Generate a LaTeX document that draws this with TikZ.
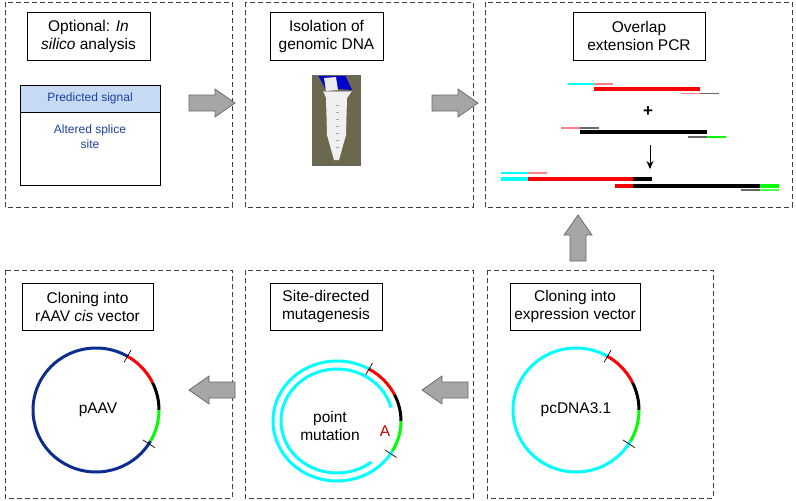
\documentclass[tikz,border=0pt]{standalone}
\usepackage{fontspec}
\setmainfont{Liberation Sans}
\usetikzlibrary{calc,arrows.meta}
\definecolor{lred}{HTML}{FF8080}
\definecolor{navy}{HTML}{0C2D8F}
\definecolor{dblue}{HTML}{1F3FA0}
\definecolor{hdr}{HTML}{C6DBF3}
\definecolor{cyn}{HTML}{00FFFF}
\definecolor{grn}{HTML}{00FF00}
\definecolor{rd}{HTML}{FF0000}
\begin{document}
\begin{tikzpicture}[x=1pt,y=-1pt,
  panel/.style={draw=black!75,dashed,dash pattern=on 5pt off 3pt,line width=0.8pt},
  titlebox/.style={draw=black,line width=0.8pt,fill=white,align=center,font=\fontsize{15.5}{18}\selectfont},
  barrowstyle/.style={draw=black!60,fill=black!35,line width=0.7pt},
  thick1/.style={line width=4pt},
  thin1/.style={line width=1.2pt},
  ring/.style={line width=3pt},
  lbl/.style={font=\fontsize{15.5}{18}\selectfont,align=center}]
\useasboundingbox (0,0) rectangle (796,501);
\newcommand\blockarrow[2]{\draw[barrowstyle,shift={#1},rotate=#2] (-23,-8) -- (3,-8) -- (3,-14) -- (23,0) -- (3,14) -- (3,8) -- (-23,8) -- cycle;}
% panels
\draw[panel] (5,2) rectangle (232,207);
\draw[panel] (245,2) rectangle (473,207);
\draw[panel] (485,2) rectangle (792,207);
\draw[panel] (5,270) rectangle (232,498);
\draw[panel] (245,270) rectangle (473,498);
\draw[panel] (487,270) rectangle (713,498);
% titles
\node[titlebox,minimum width=123pt,minimum height=48pt] (t1) at (88.5,36) {Optional: \textit{In}\\\textit{silico} analysis};
\node[titlebox,minimum width=113pt,minimum height=48pt] (t2) at (326.5,36) {Isolation of\\genomic DNA};
\node[titlebox,minimum width=132pt,minimum height=48pt] (t3) at (639,36) {Overlap\\extension PCR};
\node[titlebox,minimum width=131pt,minimum height=47pt] (t4) at (87.5,306.5) {Cloning into\\rAAV \textit{cis} vector};
\node[titlebox,minimum width=112pt,minimum height=47pt] (t5) at (326,306.5) {Site-directed\\mutagenesis};
\node[titlebox,minimum width=130pt,minimum height=47pt] (t6) at (575,306.5) {Cloning into\\expression vector};
% in silico table
\draw[fill=hdr,line width=0.8pt] (20,85) rectangle (160,112);
\draw[line width=0.8pt] (20,112) rectangle (160,185);
\node[lbl,text=dblue,font=\fontsize{12}{15}\selectfont] (ps) at (90,98.5) {Predicted signal};
\node[lbl,text=dblue,font=\fontsize{12}{15}\selectfont] (as) at (90,137) {Altered splice\\site};
% tube photo
\fill[black!55!olive!60!gray] (312,75) rectangle (360,165);
\fill[blue!80!black] (318,75) -- (345,75) -- (352,90) -- (325,88) -- cycle;
\fill[white!85!gray] (324,78) -- (336,77) -- (338,90) -- (326,91) -- cycle;
\fill[white!88!gray] (323,91) -- (352,91) -- (347,98) -- (346,135) -- (339,160) -- (334,160) -- (327,135) -- (326,98) -- cycle;
\draw[gray!60,line width=0.6pt] (323,91) -- (352,91);
\foreach \yy in {105,112,...,152} \draw[gray!70,line width=0.4pt] (336,\yy) -- (339,\yy);
\node[draw=black!60,line width=0.6pt,minimum width=48pt,minimum height=90pt,inner sep=0pt] (tube) at (336,120) {};
% block arrows
\blockarrow{(212,103)}{0}
\blockarrow{(455,103)}{0}
\blockarrow{(578,238)}{90}
\blockarrow{(445,390)}{180}
\blockarrow{(212,390)}{180}
% PCR
\draw[thick1,rd] (594,89) -- (700,89);
\draw[thin1,cyn] (568,84) -- (594,84);
\draw[thin1,lred] (594,84) -- (613,84);
\draw[thin1,lred] (681,93.5) -- (700,93.5);
\draw[thin1,black!60] (700,93.5) -- (719,93.5);
\node[font=\fontsize{17}{17}\selectfont\bfseries] (plus) at (648,112) {+};
\draw[thick1,black] (580,132) -- (707,132);
\draw[thin1,lred] (561,128) -- (580,128);
\draw[thin1,black!60] (580,128) -- (599,128);
\draw[thin1,black!60] (688,137) -- (707,137);
\draw[thin1,grn] (707,137) -- (726,137);
\coordinate (ds) at (650,145); \coordinate (de) at (650,169);
\draw[-{Stealth[length=8pt,width=7pt]},line width=0.8pt] (ds) -- (de);
\draw[thin1,cyn] (501,173) -- (528,173);
\draw[thin1,lred] (528,173) -- (547,173);
\draw[thick1,cyn] (501,178.5) -- (528,178.5);
\draw[thick1,rd] (528,178.5) -- (633,178.5);
\draw[thick1,black] (633,178.5) -- (652,178.5);
\draw[thick1,rd] (615,185.5) -- (633,185.5);
\draw[thick1,black] (633,185.5) -- (760,185.5);
\draw[thick1,grn] (760,185.5) -- (779,185.5);
\draw[thin1,black!60] (741,190) -- (760,190);
\draw[thin1,grn!70] (760,190) -- (779,190);
% circles: pAAV
\coordinate (c4) at (96,410);
\draw[ring,navy] (c4) ++(-60:63 and 62) arc[start angle=-60,end angle=-330,x radius=63,y radius=62];
\draw[ring,rd] (c4) ++(-60:63 and 62) arc[start angle=-60,end angle=-26,x radius=63,y radius=62];
\draw[ring,black] (c4) ++(-26:63 and 62) arc[start angle=-26,end angle=0,x radius=63,y radius=62];
\draw[ring,grn] (c4) ++(0:63 and 62) arc[start angle=0,end angle=30,x radius=63,y radius=62];
\draw[black,line width=0.7pt] ($(c4)+(-60:56 and 55)$) -- ($(c4)+(-60:70 and 69)$);
\draw[black,line width=0.7pt] ($(c4)+(33:56 and 55)$) -- ($(c4)+(33:70 and 69)$);
\node[lbl] (l4) at (98,410) {pAAV};
% pcDNA
\coordinate (c6) at (576,410);
\draw[ring,cyn] (c6) ++(-60:63 and 62) arc[start angle=-60,end angle=-330,x radius=63,y radius=62];
\draw[ring,rd] (c6) ++(-60:63 and 62) arc[start angle=-60,end angle=-26,x radius=63,y radius=62];
\draw[ring,black] (c6) ++(-26:63 and 62) arc[start angle=-26,end angle=0,x radius=63,y radius=62];
\draw[ring,grn] (c6) ++(0:63 and 62) arc[start angle=0,end angle=30,x radius=63,y radius=62];
\draw[black,line width=0.7pt] ($(c6)+(-60:56 and 55)$) -- ($(c6)+(-60:70 and 69)$);
\draw[black,line width=0.7pt] ($(c6)+(33:56 and 55)$) -- ($(c6)+(33:70 and 69)$);
\node[lbl] (l6) at (576,410) {pcDNA3.1};
% mutagenesis
\coordinate (c5) at (337,421);
\draw[ring,cyn] (c5) ++(-60:64 and 60) arc[start angle=-60,end angle=-330,x radius=64,y radius=60];
\draw[ring,rd] (c5) ++(-60:64 and 60) arc[start angle=-60,end angle=-26,x radius=64,y radius=60];
\draw[ring,black] (c5) ++(-26:64 and 60) arc[start angle=-26,end angle=0,x radius=64,y radius=60];
\draw[ring,grn] (c5) ++(0:64 and 60) arc[start angle=0,end angle=30,x radius=64,y radius=60];
\draw[black,line width=0.7pt] ($(c5)+(-60:57 and 53)$) -- ($(c5)+(-60:71 and 67)$);
\draw[black,line width=0.7pt] ($(c5)+(33:57 and 53)$) -- ($(c5)+(33:71 and 67)$);
\draw[ring,cyn] (c5) ++(-15:56 and 52) arc[start angle=-15,end angle=-308,x radius=56,y radius=52];
\node[lbl] (l5) at (330,426) {point\\mutation};
\node[lbl,text=red!75!black] (mA) at (385,431) {A};
\end{tikzpicture}
\end{document}
